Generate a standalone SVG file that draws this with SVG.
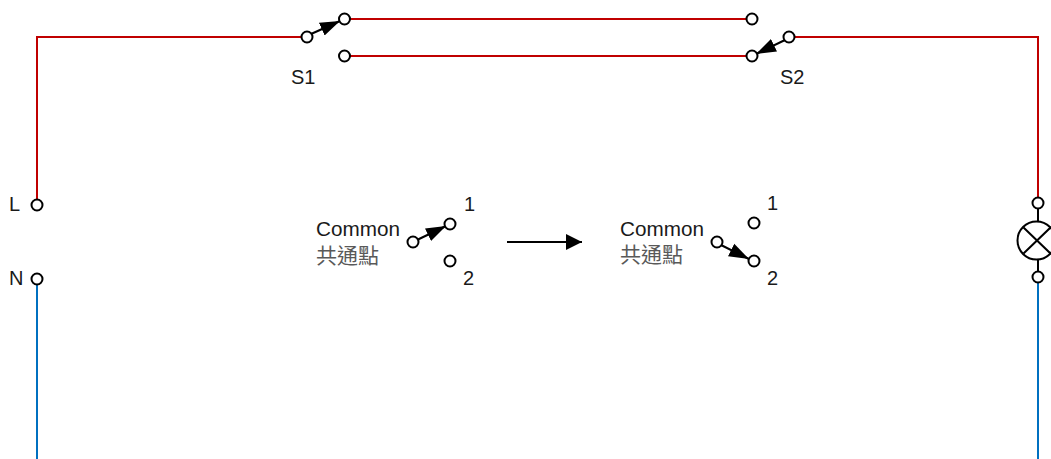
<svg xmlns="http://www.w3.org/2000/svg" width="1051" height="459" viewBox="0 0 1051 459">
<style>
.r{fill:none;stroke:#c00000;stroke-width:2}
.b{fill:none;stroke:#0070c0;stroke-width:2}
.k{fill:none;stroke:#000;stroke-width:2}
.t{fill:#fff;stroke:#000;stroke-width:2}
.lever{fill:none;stroke:#000;stroke-width:2;marker-end:url(#ah)}
.main{fill:none;stroke:#000;stroke-width:2;marker-end:url(#am)}
text{font-family:"Liberation Sans","Noto Sans CJK TC",sans-serif;font-size:20px;fill:#1a1a1a}
.cjk{fill:#595959;font-size:21px}
</style>
<defs>
<marker id="ah" markerUnits="userSpaceOnUse" markerWidth="22" markerHeight="16" refX="20" refY="8" orient="auto"><path d="M0 1L20 8L0 15z" fill="#000"/></marker>
<marker id="am" markerUnits="userSpaceOnUse" markerWidth="18" markerHeight="18" refX="16" refY="9" orient="auto"><path d="M0 1L16 9L0 17z" fill="#000"/></marker>
</defs>
<rect width="1051" height="459" fill="#fff"/>
<g id="connectors">
<path class="r" d="M37 200V37H302"/>
<path class="r" d="M349 19H747"/>
<path class="r" d="M349 56H747"/>
<path class="r" d="M794 37H1038V198"/>
<path class="b" d="M37 284V459"/>
<path class="b" d="M1038 282V459"/>
<path class="k" d="M1038 208V222"/>
<path class="k" d="M1038 259V272"/>
<path class="lever" d="M311 34L340 21"/>
<path class="lever" d="M785 40L756 54"/>
<path class="lever" d="M417 240L446 226"/>
<path class="lever" d="M721 245L749 259"/>
<path class="main" d="M507 242H582"/>
</g>
<g id="S1">
<circle class="t" cx="307" cy="37" r="5.500"/><circle class="t" cx="344.500" cy="19" r="5.500"/><circle class="t" cx="344.500" cy="56" r="5.500"/>
<text x="291" y="84">S1</text>
</g>
<g id="S2">
<circle class="t" cx="752" cy="19" r="5.500"/><circle class="t" cx="752" cy="56" r="5.500"/><circle class="t" cx="789" cy="37" r="5.500"/>
<text x="780" y="84">S2</text>
</g>
<g id="L"><text x="9" y="211">L</text><circle class="t" cx="37" cy="205" r="5.500"/></g>
<g id="N"><text x="9" y="285">N</text><circle class="t" cx="37" cy="279" r="5.500"/></g>
<g id="lamp">
<circle class="t" cx="1038" cy="203" r="5.500"/><circle class="t" cx="1038" cy="277" r="5.500"/>
<circle class="t" cx="1036.500" cy="240.500" r="19"/>
<path class="k" d="M1023.500 227.500L1051 254M1023.500 253.500L1051 227"/>
</g>
<g id="switch-before">
<text x="316" y="236" textLength="84" lengthAdjust="spacingAndGlyphs">Common</text><text class="cjk" x="316" y="263">共通點</text>
<circle class="t" cx="413" cy="242" r="5.500"/><circle class="t" cx="450" cy="224" r="5.500"/><circle class="t" cx="450" cy="261" r="5.500"/>
<text x="464" y="211">1</text><text x="463" y="285">2</text>
</g>
<g id="switch-after">
<text x="620" y="236" textLength="84" lengthAdjust="spacingAndGlyphs">Common</text><text class="cjk" x="620" y="262">共通點</text>
<circle class="t" cx="717" cy="242" r="5.500"/><circle class="t" cx="754" cy="223" r="5.500"/><circle class="t" cx="754" cy="261" r="5.500"/>
<text x="767" y="210">1</text><text x="767" y="285">2</text>
</g>
</svg>
